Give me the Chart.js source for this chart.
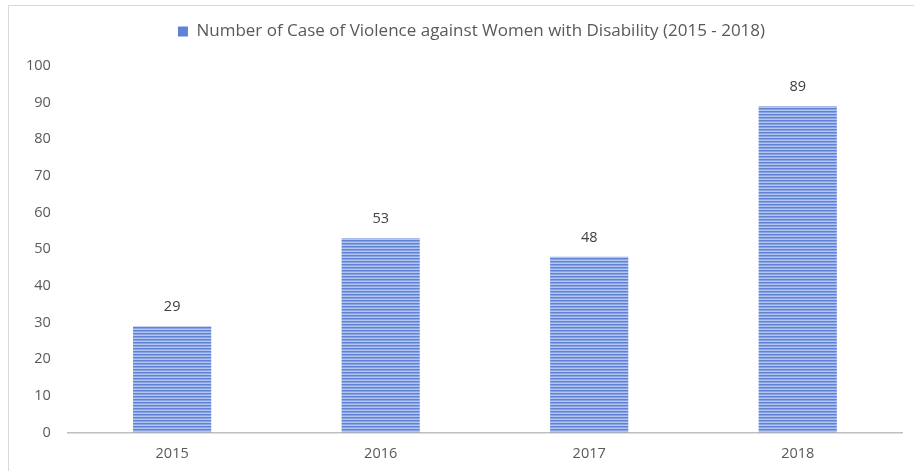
<!DOCTYPE html>
<html><head><meta charset="utf-8">
<script src="https://cdn.jsdelivr.net/npm/chart.js@4.4.0/dist/chart.umd.min.js"></script>
<style>
html,body{margin:0;padding:0;background:#fff;overflow:hidden;}
#frame{position:absolute;left:8px;top:5px;width:920px;height:480px;border:1px solid #d9d9d9;box-sizing:border-box;}
#wrap{position:absolute;left:0;top:0;width:914px;height:471px;}
</style></head>
<body>
<div id="frame"></div>
<div id="wrap"><canvas id="c" width="914" height="471"></canvas></div>
<script>
const categories = ["2015","2016","2017","2018"];
const seriesLabel = "Number of Case of Violence against Women with Disability (2015 - 2018)";
const values = [29, 53, 48, 89];
const yTicks = [0,10,20,30,40,50,60,70,80,90,100];

function stripePattern(){
  const p = document.createElement('canvas');
  p.width = 4; p.height = 3;
  const g = p.getContext('2d');
  g.fillStyle = '#b4c6ef'; g.fillRect(0,0,4,3);
  g.fillStyle = '#5f82d6'; g.fillRect(0,0,4,1.5);
  return document.getElementById('c').getContext('2d').createPattern(p,'repeat');
}
const pat = stripePattern();
const font = "'Open Sans', 'Liberation Sans', sans-serif";

const labelPlugin = {
  id:'vals',
  afterDatasetsDraw(chart){
    const ctx = chart.ctx;
    const meta = chart.getDatasetMeta(0);
    ctx.save();
    ctx.fillStyle = '#404040';
    ctx.font = "14.5px " + font;
    ctx.textAlign = 'center';
    ctx.textBaseline = 'middle';
    meta.data.forEach((b,i)=>{ ctx.fillText(String(values[i]), b.x, b.y - 19); });
    ctx.restore();
  }
};
const legendMargin = {
  id:'legendMargin',
  beforeInit(chart){
    const fit = chart.legend.fit;
    chart.legend.fit = function(){ fit.bind(chart.legend)(); this.height += 16; };
  },
  afterLayout(chart){
    chart.legend.left += 16; chart.legend.right += 16;
  }
};

new Chart(document.getElementById('c'), {
  type:'bar',
  data:{labels:categories, datasets:[{label:seriesLabel, data:values, backgroundColor:pat, borderWidth:0, barPercentage:0.375, categoryPercentage:1}]},
  options:{
    responsive:false, animation:false,
    layout:{padding:{left:9,right:12,top:9,bottom:-5}},
    plugins:{
      legend:{position:'top', labels:{font:{family:font,size:17}, color:'#595959', boxWidth:10, boxHeight:10, padding:14,
        generateLabels(chart){return [{text:seriesLabel, fillStyle:'#5f82d6', strokeStyle:'#5f82d6', lineWidth:0, datasetIndex:0, fontColor:'#595959'}];}}},
      tooltip:{enabled:false}
    },
    scales:{
      x:{grid:{display:false, drawTicks:false}, border:{color:'#bfbfbf', width:1.5},
        ticks:{color:'#595959', font:{family:font,size:14.5}, padding:13}},
      y:{min:0,max:100, grid:{display:false, drawTicks:false}, border:{display:false},
        afterBuildTicks(axis){axis.ticks = yTicks.map(v=>({value:v}));},
        ticks:{color:'#595959', font:{family:font,size:14.5}, padding:17}}
    }
  },
  plugins:[labelPlugin, legendMargin]
});
</script>
</body></html>
